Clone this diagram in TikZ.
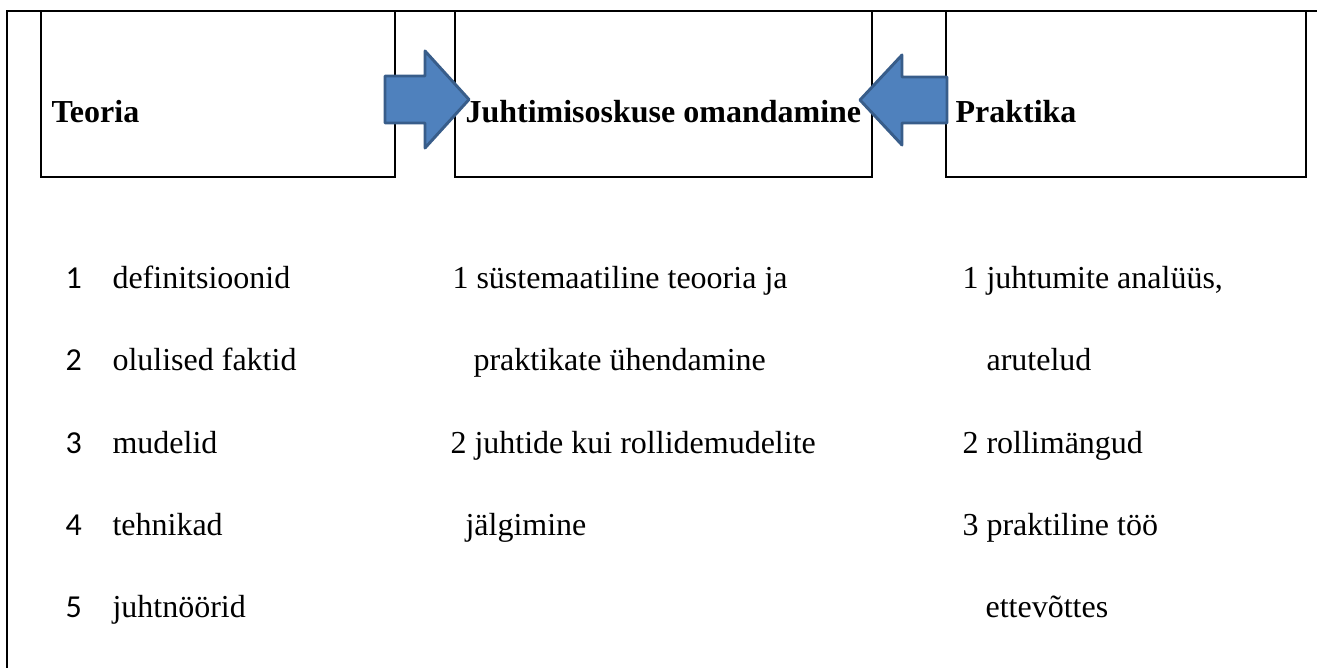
\documentclass[tikz,border=0pt]{standalone}
\usepackage{fontspec}
\setmainfont{Liberation Serif}
\newfontfamily\numfont{Carlito}
\usetikzlibrary{positioning}
\definecolor{arrowblue}{RGB}{79,129,189}
\definecolor{arrowedge}{RGB}{56,93,138}
\tikzset{
  framebox/.style={draw=black,line width=0.75pt},
  blockarr/.style={fill=arrowblue,draw=arrowedge,line width=1.1pt,line join=round},
  headtext/.style={anchor=base west,inner sep=0pt,font=\fontsize{12}{14}\selectfont\bfseries},
  itemtext/.style={anchor=base west,inner sep=0pt,font=\fontsize{12}{14}\selectfont},
  numtext/.style={anchor=base west,inner sep=0pt,font=\fontsize{12}{14}\selectfont\numfont}
}

\begin{document}
\begin{tikzpicture}[x=0.375pt,y=-0.375pt]
  \useasboundingbox (0,0) rectangle (1317,668);
  % table frame and the three boxes
  \draw[framebox] (7,668) -- (7,11) -- (1317,11);
  \draw[framebox] (41,11) rectangle (395,177);
  \draw[framebox] (455,11) rectangle (872,177);
  \draw[framebox] (946,11) rectangle (1306,177);

  % block arrows
  \draw[blockarr] (385,76) -- (425,76) -- (425,51) -- (469,99.5) -- (425,148) -- (425,123) -- (385,123) -- cycle;
  \draw[blockarr] (947,77) -- (902,77) -- (902,55) -- (860,100) -- (902,145) -- (902,123) -- (947,123) -- cycle;

  \node[headtext] (teoria) at (51,123) {Teoria};
  \node[headtext] (omand) at (465,123) {Juhtimisoskuse omandamine};
  \node[headtext] (praktika) at (955,123) {Praktika};

  % left column
  \node[numtext] (n1) at (65,289) {1};
  \node[numtext] (n2) at (65,371) {2};
  \node[numtext] (n3) at (65,453.5) {3};
  \node[numtext] (n4) at (65,536) {4};
  \node[numtext] (n5) at (65,618) {5};
  \node[itemtext] (t1) at (112,289) {definitsioonid};
  \node[itemtext] (t2) at (112,371) {olulised faktid};
  \node[itemtext] (t3) at (112,453.5) {mudelid};
  \node[itemtext] (t4) at (112,536) {tehnikad};
  \node[itemtext] (t5) at (112,618) {juhtnöörid};

  % middle column
  \node[itemtext] (m1) at (452,289) {1 süstemaatiline teooria ja};
  \node[itemtext] (m2) at (473,371) {praktikate ühendamine};
  \node[itemtext] (m3) at (450,453.5) {2 juhtide kui rollidemudelite};
  \node[itemtext] (m4) at (465,536) {jälgimine};

  % right column
  \node[itemtext] (p1) at (962,289) {1 juhtumite analüüs,};
  \node[itemtext] (p2) at (986,371) {arutelud};
  \node[itemtext] (p3) at (962,453.5) {2 rollimängud};
  \node[itemtext] (p4) at (962,536) {3 praktiline töö};
  \node[itemtext] (p5) at (985,618) {ettevõttes};
\end{tikzpicture}
\end{document}
